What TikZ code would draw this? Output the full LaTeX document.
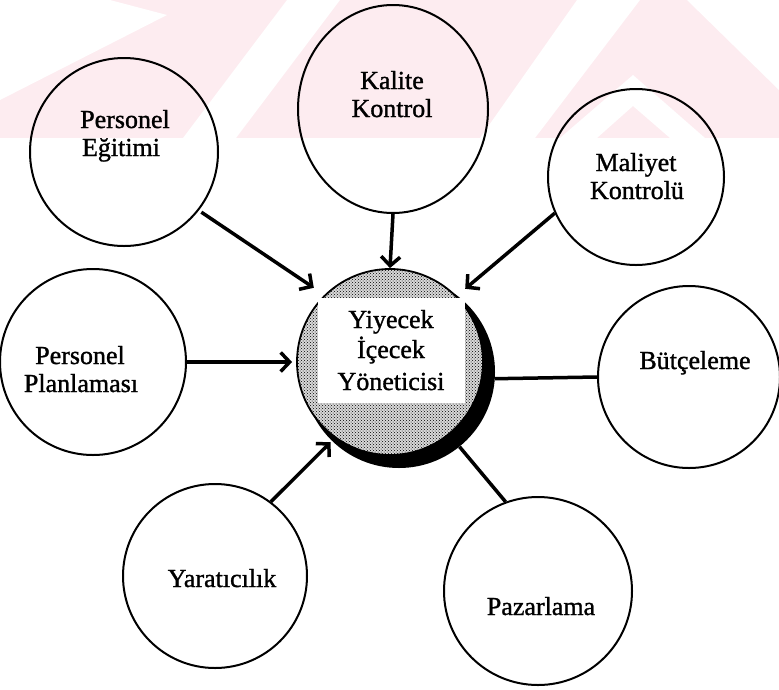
\documentclass[tikz,border=0pt]{standalone}
\usepackage{fontspec}
\setmainfont{Liberation Serif}[FakeBold=1.2]
\usetikzlibrary{arrows.meta,shapes.geometric,patterns}
\definecolor{wmpink}{RGB}{253,236,240}
\begin{document}
\begin{tikzpicture}[x=1pt,y=-1pt,
  bubble/.style={circle,draw=black,line width=2pt,inner sep=0pt},
  lbl/.style={anchor=base,inner sep=0pt,font=\fontsize{26}{29}\selectfont},
  feed/.style={line width=3.5pt,-{Straight Barb[length=9pt,width=19pt]}},
  link/.style={line width=3.5pt},
]
\useasboundingbox (0,0) rectangle (779,689);

% faint watermark band along the top
\fill[wmpink] (0,0) rectangle (779,138);
\fill[white] (0,0) -- (110,0) -- (167,15) -- (0,100) -- cycle;
\fill[white] (287,0) -- (340,0) -- (236,138) -- (183,138) -- cycle;
\fill[white] (577,0) -- (640,0) -- (535,138) -- (480,138) -- cycle;
\fill[white] (633,75) -- (705,138) -- (670,138) -- (633,106) -- (597,138) -- (560,138) -- cycle;
\fill[white] (687,0) -- (779,0) -- (779,90) -- cycle;

% outer topics
\node[bubble,minimum size=188pt] (pe) at (124,152) {};
\node[bubble,ellipse,minimum width=190pt,minimum height=208pt] (kk) at (393,109) {};
\node[bubble,minimum size=176pt] (mk) at (636,177) {};
\node[bubble,minimum size=186pt] (pp) at (93,362) {};
\node[bubble,minimum size=182pt] (bc) at (689,377) {};
\node[bubble,minimum size=184pt] (yr) at (215,576) {};
\node[bubble,minimum size=188pt] (pz) at (538,591) {};

% central role: shadow, dotted disc, white label panel
\node[circle,fill=black,inner sep=0pt,minimum size=192pt] (sh) at (399,372) {};
\node[circle,draw=black,line width=1.8pt,inner sep=0pt,minimum size=186pt,
      preaction={fill=gray!30},pattern=crosshatch dots,pattern color=black] (ctr) at (390,362) {};
\node[fill=white,inner sep=0pt,minimum width=147pt,minimum height=105pt] (box) at (391.5,350.5) {};

% labels
\node[lbl] (kk1) at (392,89) {Kalite};
\node[lbl] (kk2) at (392,117) {Kontrol};
\node[lbl] (pe1) at (125,128) {Personel};
\node[lbl] (pe2) at (121,156) {Eğitimi};
\node[lbl] (mk1) at (636,171) {Maliyet};
\node[lbl] (mk2) at (637,199) {Kontrolü};
\node[lbl] (pp1) at (80,364) {Personel};
\node[lbl] (pp2) at (81,392) {Planlaması};
\node[lbl] (bc1) at (695,369) {Bütçeleme};
\node[lbl] (yr1) at (222,587) {Yaratıcılık};
\node[lbl] (pz1) at (541,615) {Pazarlama};
\node[lbl] (c1) at (391,328) {Yiyecek};
\node[lbl] (c2) at (391,358) {İçecek};
\node[lbl] (c3) at (391,390) {Yöneticisi};

% connectors
\draw[feed,shorten <=3pt] (pe.-38) -- ([shift={(-4,-10)}]box.north west);
\draw[feed] (kk.south) -- (ctr.north);
\draw[feed] (mk.204) -- ([shift={(0,-9)}]box.north east);
\draw[feed,shorten >=4pt] (pp.east) -- (ctr.west);
\draw[link] (sh.-4) -- (bc.west);
\draw[feed,shorten >=6pt] (yr.53) -- (ctr.234);
\draw[link] (sh.-51) -- (pz.110);
\end{tikzpicture}
\end{document}
